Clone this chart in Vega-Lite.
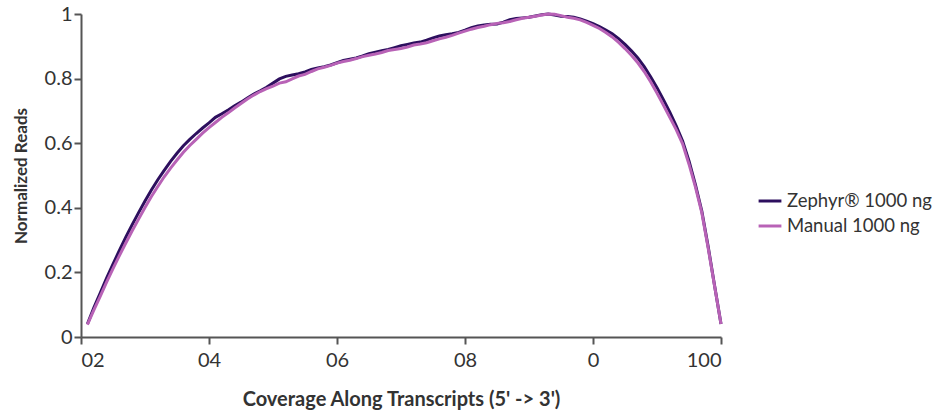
{
  "$schema": "https://vega.github.io/schema/vega-lite/v6.json",
  "width": 640,
  "height": 323,
  "autosize": "none",
  "padding": {"left": 81, "top": 14, "right": 220, "bottom": 79},
  "background": "white",
  "config": {
    "view": {"stroke": null},
    "font": "Lato"
  },
  "data": {
    "values": [
      {"pos": 1, "Zephyr® 1000 ng": 0.040, "Manual 1000 ng": 0.038},
      {"pos": 2, "Zephyr® 1000 ng": 0.090, "Manual 1000 ng": 0.083},
      {"pos": 3, "Zephyr® 1000 ng": 0.136, "Manual 1000 ng": 0.126},
      {"pos": 4, "Zephyr® 1000 ng": 0.182, "Manual 1000 ng": 0.170},
      {"pos": 5, "Zephyr® 1000 ng": 0.226, "Manual 1000 ng": 0.212},
      {"pos": 6, "Zephyr® 1000 ng": 0.268, "Manual 1000 ng": 0.252},
      {"pos": 7, "Zephyr® 1000 ng": 0.309, "Manual 1000 ng": 0.291},
      {"pos": 8, "Zephyr® 1000 ng": 0.348, "Manual 1000 ng": 0.329},
      {"pos": 9, "Zephyr® 1000 ng": 0.385, "Manual 1000 ng": 0.365},
      {"pos": 10, "Zephyr® 1000 ng": 0.421, "Manual 1000 ng": 0.401},
      {"pos": 11, "Zephyr® 1000 ng": 0.455, "Manual 1000 ng": 0.435},
      {"pos": 12, "Zephyr® 1000 ng": 0.487, "Manual 1000 ng": 0.466},
      {"pos": 13, "Zephyr® 1000 ng": 0.516, "Manual 1000 ng": 0.496},
      {"pos": 14, "Zephyr® 1000 ng": 0.544, "Manual 1000 ng": 0.523},
      {"pos": 15, "Zephyr® 1000 ng": 0.569, "Manual 1000 ng": 0.548},
      {"pos": 16, "Zephyr® 1000 ng": 0.592, "Manual 1000 ng": 0.572},
      {"pos": 17, "Zephyr® 1000 ng": 0.612, "Manual 1000 ng": 0.593},
      {"pos": 18, "Zephyr® 1000 ng": 0.630, "Manual 1000 ng": 0.612},
      {"pos": 19, "Zephyr® 1000 ng": 0.647, "Manual 1000 ng": 0.631},
      {"pos": 20, "Zephyr® 1000 ng": 0.663, "Manual 1000 ng": 0.648},
      {"pos": 21, "Zephyr® 1000 ng": 0.680, "Manual 1000 ng": 0.664},
      {"pos": 22, "Zephyr® 1000 ng": 0.691, "Manual 1000 ng": 0.680},
      {"pos": 23, "Zephyr® 1000 ng": 0.703, "Manual 1000 ng": 0.694},
      {"pos": 24, "Zephyr® 1000 ng": 0.716, "Manual 1000 ng": 0.709},
      {"pos": 25, "Zephyr® 1000 ng": 0.727, "Manual 1000 ng": 0.723},
      {"pos": 26, "Zephyr® 1000 ng": 0.740, "Manual 1000 ng": 0.737},
      {"pos": 27, "Zephyr® 1000 ng": 0.752, "Manual 1000 ng": 0.749},
      {"pos": 28, "Zephyr® 1000 ng": 0.762, "Manual 1000 ng": 0.760},
      {"pos": 29, "Zephyr® 1000 ng": 0.773, "Manual 1000 ng": 0.769},
      {"pos": 30, "Zephyr® 1000 ng": 0.786, "Manual 1000 ng": 0.777},
      {"pos": 31, "Zephyr® 1000 ng": 0.799, "Manual 1000 ng": 0.786},
      {"pos": 32, "Zephyr® 1000 ng": 0.807, "Manual 1000 ng": 0.790},
      {"pos": 33, "Zephyr® 1000 ng": 0.811, "Manual 1000 ng": 0.799},
      {"pos": 34, "Zephyr® 1000 ng": 0.815, "Manual 1000 ng": 0.808},
      {"pos": 35, "Zephyr® 1000 ng": 0.821, "Manual 1000 ng": 0.813},
      {"pos": 36, "Zephyr® 1000 ng": 0.828, "Manual 1000 ng": 0.822},
      {"pos": 37, "Zephyr® 1000 ng": 0.833, "Manual 1000 ng": 0.830},
      {"pos": 38, "Zephyr® 1000 ng": 0.837, "Manual 1000 ng": 0.835},
      {"pos": 39, "Zephyr® 1000 ng": 0.842, "Manual 1000 ng": 0.841},
      {"pos": 40, "Zephyr® 1000 ng": 0.849, "Manual 1000 ng": 0.848},
      {"pos": 41, "Zephyr® 1000 ng": 0.856, "Manual 1000 ng": 0.853},
      {"pos": 42, "Zephyr® 1000 ng": 0.860, "Manual 1000 ng": 0.857},
      {"pos": 43, "Zephyr® 1000 ng": 0.864, "Manual 1000 ng": 0.862},
      {"pos": 44, "Zephyr® 1000 ng": 0.870, "Manual 1000 ng": 0.868},
      {"pos": 45, "Zephyr® 1000 ng": 0.877, "Manual 1000 ng": 0.872},
      {"pos": 46, "Zephyr® 1000 ng": 0.882, "Manual 1000 ng": 0.876},
      {"pos": 47, "Zephyr® 1000 ng": 0.886, "Manual 1000 ng": 0.881},
      {"pos": 48, "Zephyr® 1000 ng": 0.890, "Manual 1000 ng": 0.887},
      {"pos": 49, "Zephyr® 1000 ng": 0.896, "Manual 1000 ng": 0.890},
      {"pos": 50, "Zephyr® 1000 ng": 0.902, "Manual 1000 ng": 0.893},
      {"pos": 51, "Zephyr® 1000 ng": 0.906, "Manual 1000 ng": 0.898},
      {"pos": 52, "Zephyr® 1000 ng": 0.910, "Manual 1000 ng": 0.904},
      {"pos": 53, "Zephyr® 1000 ng": 0.913, "Manual 1000 ng": 0.907},
      {"pos": 54, "Zephyr® 1000 ng": 0.919, "Manual 1000 ng": 0.911},
      {"pos": 55, "Zephyr® 1000 ng": 0.926, "Manual 1000 ng": 0.917},
      {"pos": 56, "Zephyr® 1000 ng": 0.932, "Manual 1000 ng": 0.923},
      {"pos": 57, "Zephyr® 1000 ng": 0.936, "Manual 1000 ng": 0.928},
      {"pos": 58, "Zephyr® 1000 ng": 0.939, "Manual 1000 ng": 0.934},
      {"pos": 59, "Zephyr® 1000 ng": 0.943, "Manual 1000 ng": 0.941},
      {"pos": 60, "Zephyr® 1000 ng": 0.950, "Manual 1000 ng": 0.947},
      {"pos": 61, "Zephyr® 1000 ng": 0.958, "Manual 1000 ng": 0.953},
      {"pos": 62, "Zephyr® 1000 ng": 0.963, "Manual 1000 ng": 0.958},
      {"pos": 63, "Zephyr® 1000 ng": 0.966, "Manual 1000 ng": 0.962},
      {"pos": 64, "Zephyr® 1000 ng": 0.968, "Manual 1000 ng": 0.967},
      {"pos": 65, "Zephyr® 1000 ng": 0.969, "Manual 1000 ng": 0.971},
      {"pos": 66, "Zephyr® 1000 ng": 0.975, "Manual 1000 ng": 0.973},
      {"pos": 67, "Zephyr® 1000 ng": 0.982, "Manual 1000 ng": 0.977},
      {"pos": 68, "Zephyr® 1000 ng": 0.986, "Manual 1000 ng": 0.982},
      {"pos": 69, "Zephyr® 1000 ng": 0.988, "Manual 1000 ng": 0.987},
      {"pos": 70, "Zephyr® 1000 ng": 0.990, "Manual 1000 ng": 0.990},
      {"pos": 71, "Zephyr® 1000 ng": 0.994, "Manual 1000 ng": 0.993},
      {"pos": 72, "Zephyr® 1000 ng": 0.998, "Manual 1000 ng": 0.997},
      {"pos": 73, "Zephyr® 1000 ng": 1.000, "Manual 1000 ng": 1.000},
      {"pos": 74, "Zephyr® 1000 ng": 0.997, "Manual 1000 ng": 0.999},
      {"pos": 75, "Zephyr® 1000 ng": 0.993, "Manual 1000 ng": 0.995},
      {"pos": 76, "Zephyr® 1000 ng": 0.992, "Manual 1000 ng": 0.990},
      {"pos": 77, "Zephyr® 1000 ng": 0.990, "Manual 1000 ng": 0.987},
      {"pos": 78, "Zephyr® 1000 ng": 0.985, "Manual 1000 ng": 0.982},
      {"pos": 79, "Zephyr® 1000 ng": 0.978, "Manual 1000 ng": 0.974},
      {"pos": 80, "Zephyr® 1000 ng": 0.970, "Manual 1000 ng": 0.965},
      {"pos": 81, "Zephyr® 1000 ng": 0.961, "Manual 1000 ng": 0.955},
      {"pos": 82, "Zephyr® 1000 ng": 0.950, "Manual 1000 ng": 0.943},
      {"pos": 83, "Zephyr® 1000 ng": 0.939, "Manual 1000 ng": 0.929},
      {"pos": 84, "Zephyr® 1000 ng": 0.924, "Manual 1000 ng": 0.912},
      {"pos": 85, "Zephyr® 1000 ng": 0.906, "Manual 1000 ng": 0.893},
      {"pos": 86, "Zephyr® 1000 ng": 0.886, "Manual 1000 ng": 0.872},
      {"pos": 87, "Zephyr® 1000 ng": 0.864, "Manual 1000 ng": 0.849},
      {"pos": 88, "Zephyr® 1000 ng": 0.837, "Manual 1000 ng": 0.822},
      {"pos": 89, "Zephyr® 1000 ng": 0.806, "Manual 1000 ng": 0.790},
      {"pos": 90, "Zephyr® 1000 ng": 0.772, "Manual 1000 ng": 0.755},
      {"pos": 91, "Zephyr® 1000 ng": 0.735, "Manual 1000 ng": 0.718},
      {"pos": 92, "Zephyr® 1000 ng": 0.696, "Manual 1000 ng": 0.680},
      {"pos": 93, "Zephyr® 1000 ng": 0.654, "Manual 1000 ng": 0.642},
      {"pos": 94, "Zephyr® 1000 ng": 0.607, "Manual 1000 ng": 0.598},
      {"pos": 95, "Zephyr® 1000 ng": 0.545, "Manual 1000 ng": 0.535},
      {"pos": 96, "Zephyr® 1000 ng": 0.472, "Manual 1000 ng": 0.465},
      {"pos": 97, "Zephyr® 1000 ng": 0.390, "Manual 1000 ng": 0.385},
      {"pos": 98, "Zephyr® 1000 ng": 0.279, "Manual 1000 ng": 0.275},
      {"pos": 99, "Zephyr® 1000 ng": 0.159, "Manual 1000 ng": 0.157},
      {"pos": 100, "Zephyr® 1000 ng": 0.040, "Manual 1000 ng": 0.040}
    ]
  },
  "transform": [
    {"fold": ["Zephyr® 1000 ng", "Manual 1000 ng"], "as": ["series", "reads"]}
  ],
  "encoding": {
    "x": {
      "field": "pos",
      "type": "quantitative",
      "scale": {"domain": [0, 100], "nice": false, "zero": true},
      "axis": {
        "title": "Coverage Along Transcripts (5' -> 3')",
        "values": [0, 20, 40, 60, 80, 100],
        "labelExpr": "datum.value == 0 ? '02' : datum.value == 20 ? '04' : datum.value == 40 ? '06' : datum.value == 60 ? '08' : datum.value == 80 ? '0' : '100'",
        "grid": false,
        "domainColor": "#555555",
        "domainWidth": 2,
        "tickColor": "#555555",
        "tickWidth": 2,
        "tickSize": 7,
        "labelFont": "Lato",
        "labelFontSize": 20,
        "labelColor": "#333333",
        "labelPadding": 6,
        "titleFont": "Lato",
        "titleFontSize": 20,
        "titleFontWeight": "bold",
        "titleColor": "#333333",
        "titlePadding": 19
      }
    },
    "y": {
      "field": "reads",
      "type": "quantitative",
      "scale": {"domain": [0, 1], "nice": false},
      "axis": {
        "title": "Normalized Reads",
        "values": [0, 0.2, 0.4, 0.6, 0.8, 1],
        "labelExpr": "datum.value == 0 ? '0' : datum.value == 1 ? '1' : format(datum.value, '.1f')",
        "grid": false,
        "domainColor": "#555555",
        "domainWidth": 2,
        "tickColor": "#555555",
        "tickWidth": 2,
        "tickSize": 7,
        "labelFont": "Lato",
        "labelFontSize": 20,
        "labelColor": "#333333",
        "labelPadding": 2,
        "titleFont": "Lato",
        "titleFontSize": 17,
        "titleFontWeight": "bold",
        "titleColor": "#333333",
        "titlePadding": 14
      }
    },
    "color": {
      "field": "series",
      "type": "nominal",
      "scale": {
        "domain": ["Zephyr® 1000 ng", "Manual 1000 ng"],
        "range": ["#2d0f5e", "#b862b6"]
      },
      "legend": {
        "title": null,
        "orient": "none",
        "legendX": 676,
        "legendY": 174,
        "symbolType": "stroke",
        "symbolSize": 520,
        "symbolStrokeWidth": 3,
        "labelFont": "Lato",
        "labelFontSize": 18.5,
        "labelColor": "#333333",
        "rowPadding": 2,
        "labelOffset": 4
      }
    }
  },
  "layer": [
    {
      "transform": [{"filter": "datum.series == 'Zephyr® 1000 ng'"}],
      "mark": {"type": "line", "strokeWidth": 3}
    },
    {
      "transform": [{"filter": "datum.series == 'Manual 1000 ng'"}],
      "mark": {"type": "line", "strokeWidth": 3}
    }
  ]
}
